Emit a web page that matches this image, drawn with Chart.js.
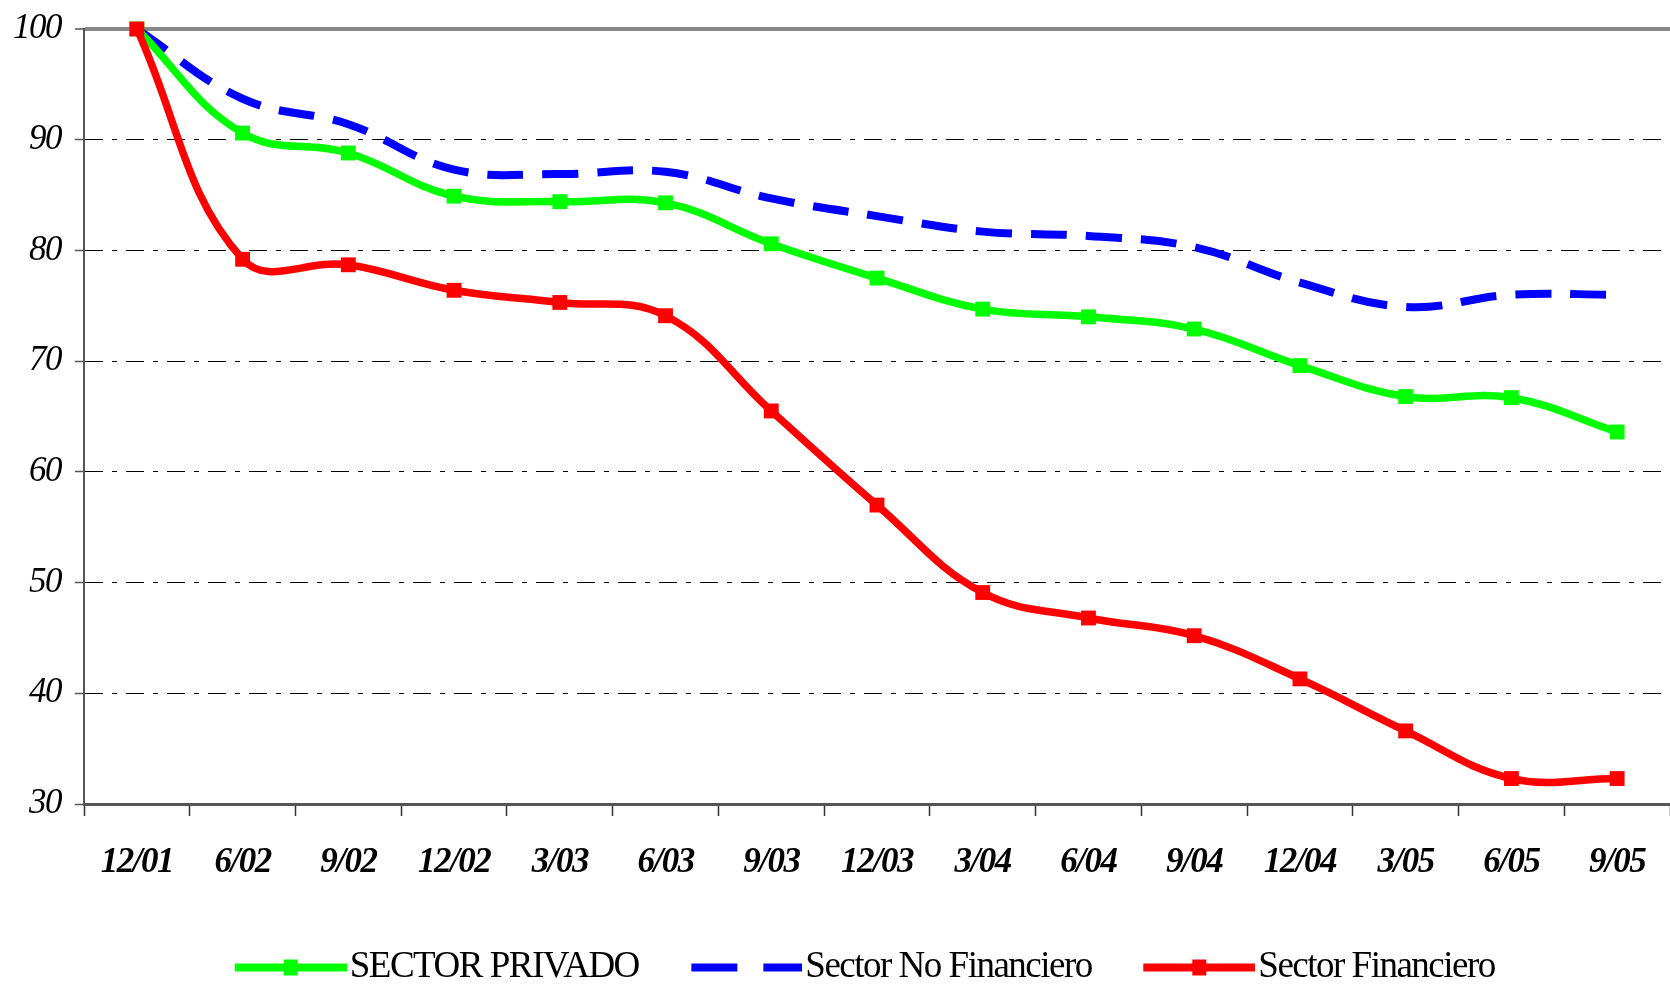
<!DOCTYPE html>
<html><head><meta charset="utf-8">
<script src="https://cdn.jsdelivr.net/npm/chart.js@4.4.1/dist/chart.umd.min.js"></script>
<style>html,body{margin:0;padding:0;background:#fff;overflow:hidden;}</style>
</head><body>
<canvas id="c" width="1670" height="985"></canvas>
<script>
const categories = ['12/01','6/02','9/02','12/02','3/03','6/03','9/03','12/03','3/04','6/04','9/04','12/04','3/05','6/05','9/05'];
const sectorPrivado = [100, 90.6, 88.8, 84.9, 84.4, 84.3, 80.6, 77.5, 74.7, 74.0, 72.9, 69.6, 66.8, 66.7, 63.6];
const sectorNoFinanciero = [100, 93.7, 91.4, 87.3, 86.9, 87.1, 84.7, 83.1, 81.7, 81.3, 80.3, 77.1, 74.9, 76.0, 76.0];
const sectorFinanciero = [100, 79.2, 78.7, 76.4, 75.3, 74.1, 65.5, 57.0, 49.1, 46.8, 45.2, 41.3, 36.6, 32.3, 32.3];
const seriesNames = ['SECTOR PRIVADO', 'Sector No Financiero', 'Sector Financiero'];
const yTicks = [30, 40, 50, 60, 70, 80, 90, 100];

const GREEN = '#00ff00', BLUE = '#0000ff', RED = '#ff0000';

function legendImage(color, dashed, marker) {
  const cv = document.createElement('canvas');
  cv.width = 143; cv.height = 20;
  const g = cv.getContext('2d');
  g.fillStyle = color;
  if (dashed) {
    g.fillRect(32, 6, 46, 8);
    g.fillRect(104, 6, 39, 8);
  } else {
    g.fillRect(31, 6, 112, 8);
  }
  if (marker) g.fillRect(80, 2, 14, 16);
  return cv;
}
const legendImgs = [legendImage(GREEN, false, true), legendImage(BLUE, true, false), legendImage(RED, false, true)];

const spacingPlugin = {
  id: 'spacing',
  beforeUpdate(c) { c.ctx.letterSpacing = '-1.5px'; },
  beforeLayout(c) { c.ctx.letterSpacing = '-1.5px'; },
  afterLayout(c) {
    if (c.legend) { c.legend.left -= 20; c.legend.right -= 20; }
  },
  beforeDraw(c) { c.ctx.letterSpacing = '-1.5px'; }
};

const colors = [GREEN, BLUE, RED];

new Chart(document.getElementById('c'), {
  type: 'line',
  data: {
    labels: categories,
    datasets: [
      { label: seriesNames[0], data: sectorPrivado, borderColor: GREEN, backgroundColor: GREEN,
        borderWidth: 7.5, tension: 0.4, pointStyle: 'rect', pointRadius: 10.5, pointBorderWidth: 0,
        pointBackgroundColor: GREEN, order: 2, clip: false },
      { label: seriesNames[1], data: sectorNoFinanciero, borderColor: BLUE, backgroundColor: BLUE,
        borderWidth: 8, borderDash: [36, 19], tension: 0.4, pointRadius: 0, order: 3, clip: false },
      { label: seriesNames[2], data: sectorFinanciero, borderColor: RED, backgroundColor: RED,
        borderWidth: 7.5, tension: 0.4, pointStyle: 'rect', pointRadius: 10.5, pointBorderWidth: 0,
        pointBackgroundColor: RED, order: 1, clip: false }
    ]
  },
  options: {
    responsive: false,
    animation: false,
    devicePixelRatio: 1,
    layout: { autoPadding: false, padding: { top: 29, right: 0, bottom: -11, left: 0 } },
    plugins: {
      tooltip: { enabled: false },
      title: { display: false },
      legend: {
        position: 'bottom',
        fullSize: false,
        labels: {
          usePointStyle: true,
          pointStyleWidth: 112,
          boxHeight: 18,
          padding: 36,
          color: '#000',
          font: { family: 'Liberation Serif', size: 37 },
          generateLabels: (chart) => chart.data.datasets.map((ds, i) => ({
            text: ds.label,
            fillStyle: colors[i],
            strokeStyle: colors[i],
            lineWidth: 0,
            pointStyle: legendImgs[i],
            hidden: false,
            datasetIndex: i,
            fontColor: '#000'
          }))
        }
      }
    },
    scales: {
      x: {
        offset: true,
        grid: { offset: true, drawOnChartArea: false, drawTicks: true, tickLength: 12,
                tickColor: '#333', tickWidth: 1.5, color: '#333' },
        border: { display: true, color: '#555', width: 3 },
        ticks: { color: '#000', padding: 26, maxRotation: 0, autoSkip: false,
                 font: { family: 'Liberation Serif', size: 35, style: 'italic', weight: 'bold' } },
        afterFit: (s) => { s.height = 109; s.paddingLeft = 0; s.paddingRight = 0; }
      },
      y: {
        min: 30, max: 100,
        afterBuildTicks: (s) => { s.ticks = yTicks.map(v => ({ value: v })); },
        grid: {
          color: (ctx) => ctx.tick && ctx.tick.value === 100 ? '#888' : (ctx.tick && ctx.tick.value === 30 ? 'rgba(0,0,0,0)' : '#000'),
          lineWidth: (ctx) => ctx.tick && ctx.tick.value === 100 ? 4 : 1,
          tickColor: '#555', tickLength: 9, tickWidth: 1.5
        },
        border: {
          display: true, color: '#555', width: 2,
          dash: (ctx) => (ctx.tick && ctx.tick.value !== 100) ? [18, 9, 5, 9] : []
        },
        ticks: { color: '#000', padding: 14,
                 font: { family: 'Liberation Serif', size: 35, style: 'italic' } },
        afterFit: (s) => { s.width = 84; s.paddingTop = 0; s.paddingBottom = 0; }
      }
    }
  },
  plugins: [spacingPlugin]
});
</script>
</body></html>
